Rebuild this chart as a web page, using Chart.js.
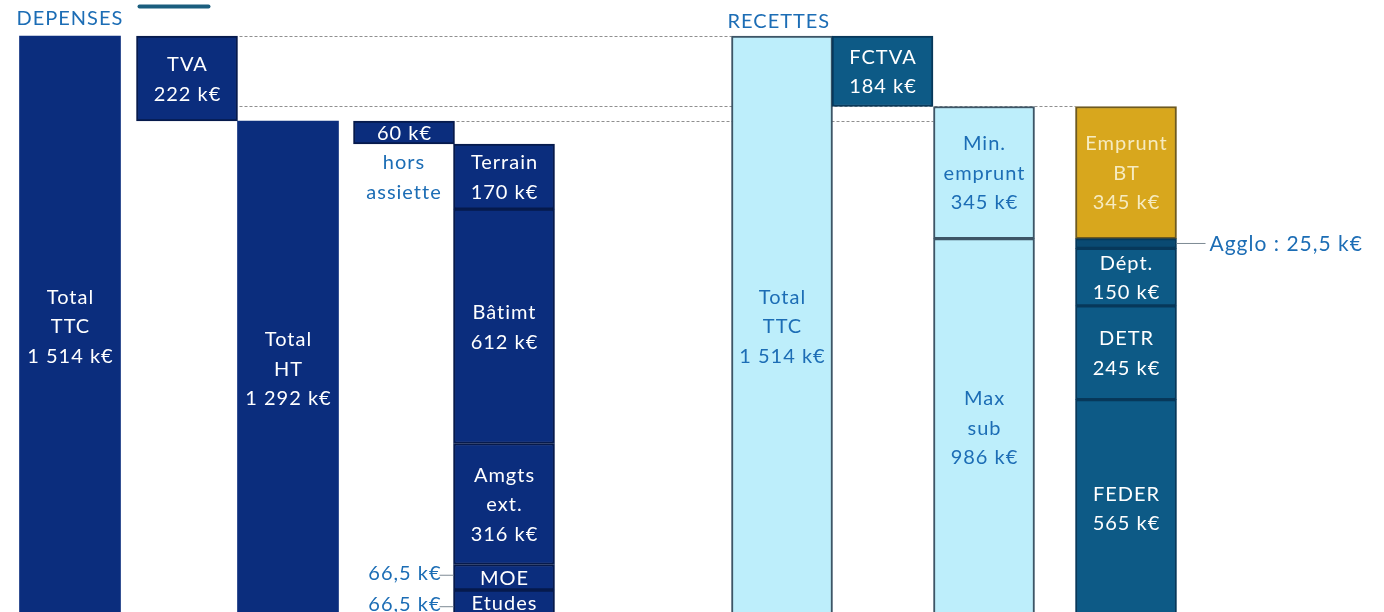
<!DOCTYPE html>
<html><head><meta charset="utf-8">
<script src="https://cdn.jsdelivr.net/npm/chart.js@4"></script>
<style>html,body{margin:0;padding:0;background:#fff;overflow:hidden}</style>
</head><body>
<canvas id="c" width="1384" height="612"></canvas>
<script>
// ---- data ----
const segmentNames = ['Total TTC','TVA','Total HT','Hors assiette','Terrain','Bâtimt','Amgts ext.','MOE','Etudes',
  'Total TTC recettes','FCTVA','Min. emprunt','Max sub','Emprunt BT','Agglo','Dépt.','DETR','FEDER'];
const segmentValues = [1514, 222, 1292, 60, 170, 612, 316, 66.5, 66.5, 1514, 184, 345, 986, 345, 25.5, 150, 245, 565];
const segmentColumn = [0, 1, 2, 3, 4, 4, 4, 4, 4, 5, 6, 7, 7, 8, 8, 8, 8, 8];
const columnTop = [1514, 1514, 1292, 1292, 1232, 1514, 1514, 1330, 1330];
const columnX = [0.70, 1.87, 2.88, 4.04, 5.04, 7.82, 8.825, 9.84, 11.26];
const segmentLabels = [
  ['Total','TTC','1 514 k€'], ['TVA','222 k€'], ['Total','HT','1 292 k€'], ['60 k€'],
  ['Terrain','170 k€'], ['Bâtimt','612 k€'], ['Amgts','ext.','316 k€'], ['MOE'], ['Etudes'],
  ['Total','TTC','1 514 k€'], ['FCTVA','184 k€'], ['Min.','emprunt','345 k€'], ['Max','sub','986 k€'],
  ['Emprunt','BT','345 k€'], [], ['Dépt.','150 k€'], ['DETR','245 k€'], ['FEDER','565 k€']
];
const dashedLevels = [1514, 1330, 1292];
const dashedFromCol = [1, 1, 3];
const dashedToCol = [5, 8, 7];
const sideNotes = ['66,5 k€', '66,5 k€', 'Agglo : 25,5 k€'];
const sideNoteSegment = [7, 8, 14];

// ---- styles ----
const NAVY = '#0b2d7d', NAVY_B = '#061a4c';
const LIGHT = '#bdeefb', LIGHT_B = '#3d5566';
const TEAL = '#0d5a86', TEAL_B = '#07385a';
const GOLD = '#d8a71d';
const BLUE_TXT = '#1c6db5';
function styleOf(i){
  const n = segmentNames[i];
  if (i <= 8) return {bg: NAVY, bd: NAVY_B, txt: '#ffffff'};
  if (n === 'Total TTC recettes' || n === 'Min. emprunt' || n === 'Max sub') return {bg: LIGHT, bd: LIGHT_B, txt: BLUE_TXT};
  if (n === 'Emprunt BT') return {bg: GOLD, bd: '#6e5a20', txt: '#f6ebc0'};
  if (n === 'Agglo') return {bg: '#0a4a72', bd: TEAL_B, txt: '#ffffff'};
  return {bg: TEAL, bd: TEAL_B, txt: '#ffffff'};
}

// waterfall ranges
const ranges = [];
const level = {};
segmentValues.forEach((v, i) => {
  const c = segmentColumn[i];
  if (level[c] === undefined) level[c] = columnTop[c];
  const top = level[c];
  ranges.push([top - v, top]);
  level[c] = top - v;
});

const FONT = 'Lato, "Open Sans", sans-serif';

const dashedPlugin = {
  id: 'dashed',
  beforeDatasetsDraw(chart) {
    const ctx = chart.ctx, xs = chart.scales.x, ys = chart.scales.y;
    const half = 101 / 2;
    ctx.save();
    ctx.strokeStyle = '#8f8f8f';
    ctx.lineWidth = 1;
    ctx.setLineDash([3, 2]);
    dashedLevels.forEach((lv, k) => {
      const y = Math.round(ys.getPixelForValue(lv)) + 0.5;
      const x0 = xs.getPixelForValue(columnX[dashedFromCol[k]]) + half + 2;
      const x1 = xs.getPixelForValue(columnX[dashedToCol[k]]) - half;
      ctx.beginPath(); ctx.moveTo(x0, y); ctx.lineTo(x1, y); ctx.stroke();
    });
    ctx.restore();
  }
};

const labelPlugin = {
  id: 'labels',
  afterDatasetsDraw(chart) {
    const ctx = chart.ctx;
    const meta = chart.getDatasetMeta(0);
    ctx.save();
    ctx.textAlign = 'center';
    ctx.textBaseline = 'middle';
    ctx.font = '20px ' + FONT;
    if ('letterSpacing' in ctx) ctx.letterSpacing = '1px';
    const LH = 29.5;
    meta.data.forEach((el, i) => {
      const lines = segmentLabels[i];
      if (!lines.length) return;
      const p = el.getProps(['x', 'y', 'base'], true);
      const cy = (Math.max(p.y, 0) + Math.min(p.base, 620)) / 2;
      ctx.fillStyle = styleOf(i).txt;
      const n = lines.length;
      lines.forEach((t, j) => ctx.fillText(t, p.x + 0.5, cy + (j - (n - 1) / 2) * LH + 1));
    });

    // annotations
    const el0 = meta.data[0].getProps(['x', 'y', 'base', 'width'], true);
    const el1 = meta.data[1].getProps(['x', 'y', 'base', 'width'], true);
    const el3 = meta.data[3].getProps(['x', 'y', 'base', 'width'], true);
    const el9 = meta.data[9].getProps(['x', 'y', 'base', 'width'], true);
    ctx.fillStyle = BLUE_TXT;
    ctx.textAlign = 'left';
    ctx.fillText('DEPENSES', el0.x - el0.width / 2 - 3, 19);
    ctx.fillText('RECETTES', el9.x - el9.width / 2 - 4, 22);
    ctx.textAlign = 'center';
    ctx.fillText('hors', el3.x, el3.base + 19);
    ctx.fillText('assiette', el3.x, el3.base + 49);

    // top underline mark
    ctx.strokeStyle = '#1b5e7e';
    ctx.lineWidth = 4;
    ctx.lineCap = 'round';
    ctx.beginPath();
    ctx.moveTo(el1.x - el1.width / 2 + 3, 6.5);
    ctx.lineTo(el1.x - el1.width / 2 + 72, 6.5);
    ctx.stroke();
    ctx.lineCap = 'butt';

    // side notes with leader lines
    sideNotes.forEach((t, k) => {
      const e = meta.data[sideNoteSegment[k]].getProps(['x', 'y', 'base', 'width'], true);
      const cy = (e.y + Math.min(e.base, 622)) / 2;
      ctx.strokeStyle = '#7d8a94';
      ctx.lineWidth = 1;
      ctx.fillStyle = BLUE_TXT;
      if (k < 2) {
        const xl = e.x - e.width / 2;
        const ty = cy - (k === 0 ? 4 : -2);
        ctx.beginPath(); ctx.moveTo(xl - 14, ty + 2); ctx.lineTo(xl, ty + 2); ctx.stroke();
        ctx.textAlign = 'right';
        ctx.fillText(t, xl - 12, ty);
      } else {
        const xr = e.x + e.width / 2;
        ctx.beginPath(); ctx.moveTo(xr, cy); ctx.lineTo(xr + 29, cy); ctx.stroke();
        ctx.textAlign = 'left';
        ctx.font = '21px ' + FONT;
        ctx.fillText(t, xr + 33, cy + 1);
      }
    });
    ctx.restore();
  }
};

new Chart(document.getElementById('c'), {
  type: 'bar',
  data: {
    labels: segmentNames,
    datasets: [{
      data: ranges.map((r, i) => ({x: columnX[segmentColumn[i]], y: r})),
      backgroundColor: segmentValues.map((v, i) => styleOf(i).bg),
      borderColor: segmentValues.map((v, i) => styleOf(i).bd),
      borderWidth: segmentValues.map((v, i) => (i === 0 || i === 2) ? 0 : 2),
      borderSkipped: false,
      barThickness: 101,
      grouped: false
    }]
  },
  options: {
    responsive: false,
    animation: false,
    events: [],
    layout: {padding: 0},
    plugins: {legend: {display: false}, tooltip: {enabled: false}, title: {display: false}},
    scales: {
      x: {type: 'linear', min: 0, max: 13.84, offset: false, display: false},
      y: {type: 'linear', min: 10, max: 1608, display: false}
    }
  },
  plugins: [dashedPlugin, labelPlugin]
});
</script>
</body></html>
